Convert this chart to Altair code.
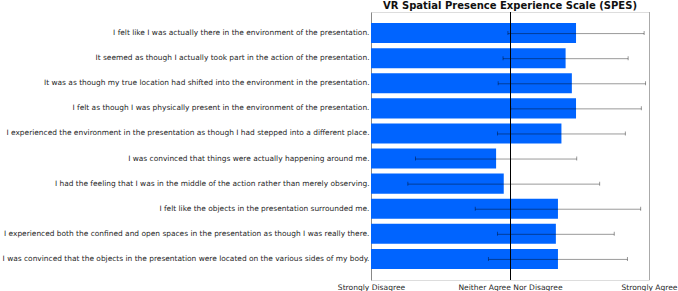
import altair as alt
import pandas as pd

# SPES item statements, top to bottom
items = [
    "I felt like I was actually there in the environment of the presentation.",
    "It seemed as though I actually took part in the action of the presentation.",
    "It was as though my true location had shifted into the environment in the presentation.",
    "I felt as though I was physically present in the environment of the presentation.",
    "I experienced the environment in the presentation as though I had stepped into a different place.",
    "I was convinced that things were actually happening around me.",
    "I had the feeling that I was in the middle of the action rather than merely observing.",
    "I felt like the objects in the presentation surrounded me.",
    "I experienced both the confined and open spaces in the presentation as though I was really there.",
    "I was convinced that the objects in the presentation were located on the various sides of my body.",
]
# Mean agreement (1-5 Likert) and standard deviation per item
means = [3.95, 3.80, 3.89, 3.95, 3.74, 2.80, 2.91, 3.69, 3.66, 3.69]
sds = [0.98, 0.90, 1.06, 0.94, 0.92, 1.16, 1.38, 1.19, 0.84, 1.00]

# Likert anchors shown on the x axis
tick_values = [1, 3, 5]
tick_labels = ["Strongly Disagree", "Neither Agree Nor Disagree", "Strongly Agree"]

df = pd.DataFrame({"item": items, "mean": means, "sd": sds})

label_expr = " : ".join(
    f"datum.value == {v} ? '{t}'" for v, t in zip(tick_values, tick_labels)
) + " : ''"

FONT = "DejaVu Sans"
TEXT = "#262626"
LABEL_SIZE = 7.45

x_scale = alt.Scale(domain=[1, 5], nice=False, zero=False, clamp=False)
y_scale = alt.Scale(paddingInner=0.2, paddingOuter=0.44)

y_enc = alt.Y(
    "item:N",
    sort=items,
    scale=y_scale,
    axis=alt.Axis(
        title=None,
        ticks=False,
        labelLimit=400,
        labelPadding=2,
        labelFontSize=LABEL_SIZE,
        labelFont=FONT,
        labelColor=TEXT,
        domain=True,
        domainColor="#888888",
        domainWidth=1,
    ),
)

base = alt.Chart(df).transform_calculate(
    start="1",
    lo="datum.mean - datum.sd",
    hi="datum.mean + datum.sd",
)

bars = base.mark_bar(color="#0064FF", opacity=1).encode(
    x=alt.X(
        "start:Q",
        scale=x_scale,
        axis=alt.Axis(
            title=None,
            values=tick_values,
            labelExpr=label_expr,
            labelFlush=False,
            labelOverlap=False,
            ticks=False,
            domain=False,
            grid=False,
            labelPadding=3,
            labelFontSize=7.55,
            labelFont=FONT,
            labelColor=TEXT,
        ),
    ),
    x2="mean:Q",
    y=y_enc,
)

y_mid = alt.Y("item:N", sort=items, scale=y_scale, bandPosition=0.5)

err_line = base.mark_rule(color="black", opacity=0.4, strokeWidth=1, yOffset=0.5).encode(
    x=alt.X("lo:Q", scale=x_scale),
    x2="hi:Q",
    y=y_mid,
)

cap_lo = base.mark_tick(color="black", opacity=0.4, size=4, thickness=1, orient="vertical").encode(
    x=alt.X("lo:Q", scale=x_scale),
    y=y_mid,
)
cap_hi = base.mark_tick(color="black", opacity=0.4, size=4, thickness=1, orient="vertical").encode(
    x=alt.X("hi:Q", scale=x_scale),
    y=y_mid,
)

mid_rule = alt.Chart(df).mark_rule(color="black", strokeWidth=1, xOffset=0.5).encode(
    x=alt.datum(3, scale=x_scale)
)
agree_rule = alt.Chart(df).mark_rule(color="#aaaaaa", strokeWidth=1, xOffset=0.5).encode(
    x=alt.datum(5, scale=x_scale)
)

chart = (
    alt.layer(bars, agree_rule, err_line, cap_lo, cap_hi, mid_rule)
    .properties(
        width=278,
        height=268,
        title=alt.TitleParams(
            "VR Spatial Presence Experience Scale (SPES)",
            font=FONT,
            fontSize=10,
            fontWeight="bold",
            color="#111111",
            anchor="middle",
            offset=1,
        ),
        autosize=alt.AutoSizeParams(type="none"),
        padding={"left": 371, "top": 12, "right": 29, "bottom": 11},
    )
    .configure_view(stroke=None)
    .configure(background="white")
)

chart.save("out.html", embed_options={"renderer": "svg", "actions": False})
